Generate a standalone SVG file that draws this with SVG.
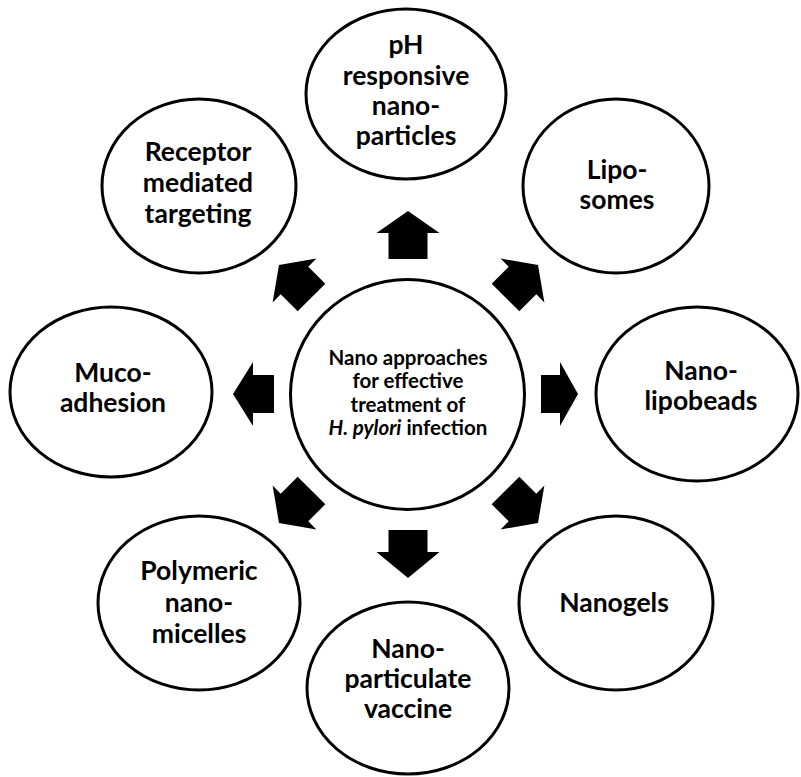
<svg xmlns="http://www.w3.org/2000/svg" width="801" height="777" viewBox="0 0 801 777">
<style>
.n{fill:#fff;stroke:#000;stroke-width:3}
.t{font-family:Lato,"Open Sans","Liberation Sans",sans-serif;font-weight:bold;font-size:26.5px;text-anchor:middle;fill:#000}
.c{font-size:20.5px}
.a{fill:#000;stroke:none}
</style>
<rect width="801" height="777" fill="#fff"/>
<g id="connectors">
<polygon class="a" points="408,211 439.5,233 427.5,233 427.5,259 388.5,259 388.5,233 376.5,233"/>
<polygon class="a" points="408,578 439.5,552 427.5,552 427.5,530 388.5,530 388.5,552 376.5,552"/>
<polygon class="a" points="233,394 253,362 253,375 274,375 274,413 253,413 253,426"/>
<polygon class="a" points="578,394 560,362 560,375 541,375 541,413 560,413 560,426"/>
<polygon class="a" points="279,265 316.4,258.6 308.3,266.7 325.3,283.7 297.7,311.3 280.7,294.3 272.6,302.4"/>
<polygon class="a" points="538,265 500.6,258.6 508.7,266.7 491.7,283.7 519.3,311.3 536.3,294.3 544.4,302.4"/>
<polygon class="a" points="279,523 316.4,529.4 308.3,521.3 325.3,504.3 297.7,476.7 280.7,493.7 272.6,485.6"/>
<polygon class="a" points="538,523 500.6,529.4 508.7,521.3 491.7,504.3 519.3,476.7 536.3,493.7 544.4,485.6"/>
</g>
<g id="center">
<ellipse class="n" cx="407.5" cy="394.5" rx="117" ry="115"/>
<text class="t c" x="408" y="365">Nano approaches</text>
<text class="t c" x="408" y="388">for effective</text>
<text class="t c" x="408" y="412">treatment of</text>
<text class="t c" x="408" y="435"><tspan font-style="italic">H. pylori</tspan> infection</text>
</g>
<g id="ph">
<ellipse class="n" cx="406" cy="94" rx="100" ry="85"/>
<text class="t" x="406" y="54">pH</text>
<text class="t" x="406" y="85">responsive</text>
<text class="t" x="406" y="115">nano-</text>
<text class="t" x="406" y="145">particles</text>
</g>
<g id="receptor">
<ellipse class="n" cx="199" cy="186" rx="97" ry="87"/>
<text class="t" x="198" y="161">Receptor</text>
<text class="t" x="198" y="192">mediated</text>
<text class="t" x="198" y="223">targeting</text>
</g>
<g id="liposomes">
<ellipse class="n" cx="616" cy="186" rx="93" ry="87"/>
<text class="t" x="617" y="179">Lipo-</text>
<text class="t" x="617" y="209">somes</text>
</g>
<g id="mucoadhesion">
<ellipse class="n" cx="111" cy="392" rx="101" ry="85"/>
<text class="t" x="113" y="382">Muco-</text>
<text class="t" x="113" y="412">adhesion</text>
</g>
<g id="lipobeads">
<ellipse class="n" cx="697" cy="394" rx="101" ry="87"/>
<text class="t" x="701" y="380">Nano-</text>
<text class="t" x="701" y="410">lipobeads</text>
</g>
<g id="micelles">
<ellipse class="n" cx="199" cy="603" rx="101" ry="87"/>
<text class="t" x="199" y="580">Polymeric</text>
<text class="t" x="199" y="612">nano-</text>
<text class="t" x="199" y="643">micelles</text>
</g>
<g id="nanogels">
<ellipse class="n" cx="616" cy="603" rx="97" ry="87"/>
<text class="t" x="614" y="612">Nanogels</text>
</g>
<g id="vaccine">
<ellipse class="n" cx="408" cy="688" rx="101" ry="86"/>
<text class="t" x="408" y="658">Nano-</text>
<text class="t" x="408" y="688">particulate</text>
<text class="t" x="408" y="718">vaccine</text>
</g>
</svg>
